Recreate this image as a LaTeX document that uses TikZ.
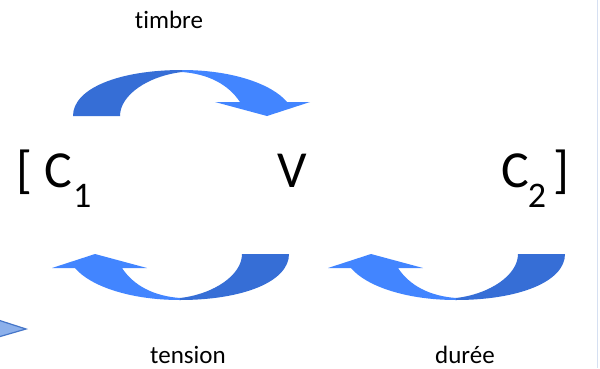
\documentclass[tikz,border=0pt]{standalone}
\usepackage{fontspec}
\setmainfont{Carlito}[Ligatures=NoCommon]
\definecolor{arrdark}{RGB}{54,110,214}
\definecolor{arrlight}{RGB}{66,133,255}
\definecolor{edgeline}{RGB}{214,224,242}
\definecolor{tipfill}{RGB}{140,176,235}
\definecolor{tipedge}{RGB}{70,118,200}
\tikzset{
  curvarrow/.pic={
    \fill[arrlight] (1,-115) .. controls (51,-115) and (91,-101) .. (106,-83)
      -- (129,-83) -- (86,-69) -- (34,-83) -- (59,-83)
      .. controls (47,-101) and (27,-111) .. (1,-113) -- cycle;
    \fill[arrdark] (-108,-69) .. controls (-108,-97) and (-61,-115) .. (1,-115)
      -- (1,-113) .. controls (-33,-109) and (-61,-90) .. (-61,-69) -- cycle;
  },
  label/.style={inner sep=0pt, anchor=base, font=\fontsize{25}{25}\selectfont},
  big/.style={inner sep=0pt, anchor=base, font=\fontsize{52}{52}\selectfont},
}
\newcommand{\subnum}[1]{\raisebox{-20pt}{\fontsize{36}{36}\selectfont #1}}
\begin{document}
\begin{tikzpicture}[x=1pt,y=-1pt]
\useasboundingbox (0,0) rectangle (600,368);
\clip (0,0) rectangle (600,368);
\fill[white] (0,0) rectangle (600,368);
% faint right edge line
\draw[edgeline, line width=1pt] (597,0) -- (597,368);
% partial arrow tip at bottom left
\filldraw[fill=tipfill, draw=tipedge, line width=1.2pt] (-5,319) -- (26,329) -- (-5,338) -- cycle;
% curved arrows
\pic at (181,185) {curvarrow};
\pic[rotate=180] at (181,185) {curvarrow};
\pic[rotate=180] at (457,185) {curvarrow};
% labels
\node[label] (timbre) at (169,28) {timbre};
\node[label] (tension) at (188,363) {tension};
\node[label] (duree) at (465,363) {durée};
% main symbols
\node[big] (c1) at (54,187) {[ C\kern1pt\subnum{1}};
\node[big] (v) at (292,187) {V};
\node[big] (c2) at (535,187) {C\kern-1pt\subnum{2}\kern7pt]};
\end{tikzpicture}
\end{document}
